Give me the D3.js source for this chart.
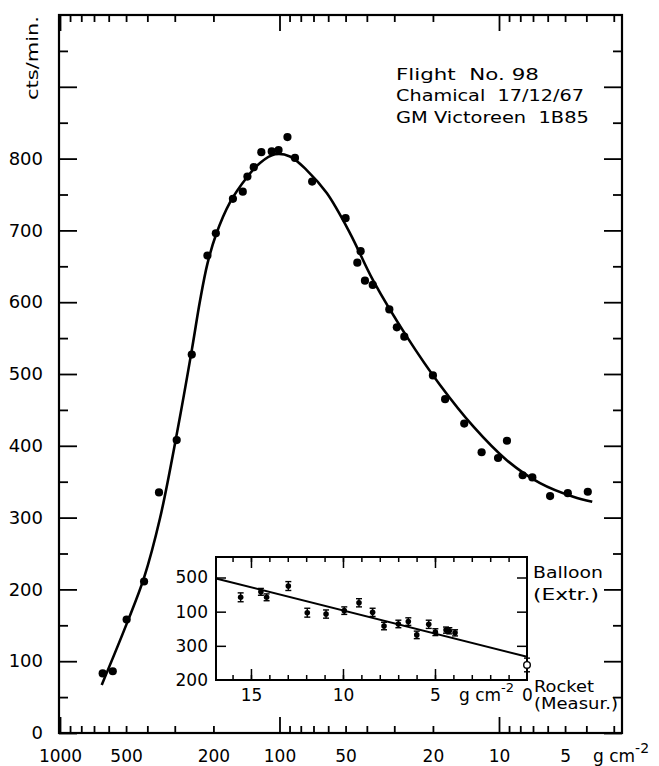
<!DOCTYPE html>
<html><head><meta charset="utf-8">
<script src="https://cdn.jsdelivr.net/npm/d3@7"></script>
<style>
body{margin:0;background:#fff}
svg{display:block}
text{font-family:"DejaVu Sans",sans-serif;fill:#000}
</style>
</head><body>
<svg id="c" width="659" height="766"></svg>
<script>
// ---------------- data ----------------
// main measured points: atmospheric depth (g cm^-2) and counting rate (cts/min)
const depthMain = [639,575,497,414,354,294,251,213,195,163,147,140,131,121,108.5,101,92,85,71,50,42.7,44.2,40.8,37.6,31.6,29.2,27,20,17.6,14.4,12,10.1,9.2,7.8,7.05,5.85,4.86,3.94];
const countsMain = [83,86,158,211,335,408,527,665,696,744,754,775,788,809,810,812,830,801,768,717,671,655,630,624,590,565,552,498,465,431,391,383,407,359,356,330,334,336];
// fitted curve
const curveDepth = [645.6,497,414.4,350.3,293.1,250.4,230.2,212.8,194.7,168.1,140.6,122.7,104.8,89.6,75.2,60.9,47.7,37.4,26.3,18.6,13.1,9.22,6.5,4.59,3.76];
const curveCounts = [67,152,216,299,418,535,602,654,694,739,774,794,806,803,784,752,696,630,552,485,427,380,348,329,322];
// inset: balloon (extrapolated) points
const insetDepth = [15.56,14.46,14.15,12.97,11.94,10.92,9.93,9.13,8.39,7.77,6.99,6.45,5.99,5.34,4.98,4.40,4.22,3.91];
const insetCounts = [442,458,442,475,397,393,403,426,398,358,364,371,332,363,340,346,344,338];
const insetErr = [13,10,10,13,13,12,11,12,12,11,11,11,11,12,10,9,9,9];
// inset: rocket (measured) point
const rocketDepth = [0];
const rocketCounts = [244];
const rocketErr = [20];
// inset straight line
const insetLineDepth = [16.9, 0];
const insetLineCounts = [497, 268];
// tick labels
const yTickLabels = [0,100,200,300,400,500,600,700,800];
const yMajorTicks = [0,100,200,300,400,500,600,700,800,900];
const yMinorTicks = [50,150,250,350,450,550,650,750,850,950];
const xTickLabels = [1000,500,200,100,50,20,10,5];
const xMajorTicks = [1000,100,10];
const insetYTicks = [500,400,300,200];
const insetYTickLabels = ["500","100","300","200"];
const insetXTickLabels = [15,10,5,0];
const insetXMajorTicks = [15,10,5];
const annotation = ["Flight  No. 98","Chamical  17/12/67","GM Victoreen  1B85"];

// ---------------- layout ----------------
const L=59,R=622,T=15,B=733;
const svg=d3.select('#c');
const x=d3.scaleLog().domain([1000, 1000/Math.pow(10,(R-60)/219.5)]).range([60,R]);
const y=d3.scaleLinear().domain([0,1000]).range([B,T]);

const minorX=[];
[100,10,1].forEach(dec=>{for(let k=2;k<=9;k++){const v=k*dec; if(v>=x.domain()[1]) minorX.push(v);}});

function tickAxis(axis, transform, sw){
  const g=svg.append('g').attr('transform',transform).call(axis);
  g.select('.domain').remove();
  g.selectAll('line').attr('stroke','#000').attr('stroke-width',sw||1.8);
  return g;
}
// fit a text horizontally to a width by scaling the glyphs
function fitText(sel, px, py, width, rot){
  const n=sel.node().getComputedTextLength();
  const s=width/n;
  sel.attr('x',0).attr('y',0)
     .attr('transform',`translate(${px},${py})`+(rot?` rotate(${rot})`:'')+` scale(${s},1)`);
}
// bottom & top ticks
tickAxis(d3.axisBottom(x).tickValues(minorX).tickSizeInner(-7).tickSizeOuter(0).tickFormat(''),`translate(0,${B})`);
tickAxis(d3.axisBottom(x).tickValues(xMajorTicks).tickSizeInner(-16).tickSizeOuter(0).tickFormat(''),`translate(0,${B})`);
tickAxis(d3.axisTop(x).tickValues(minorX).tickSizeInner(-7).tickSizeOuter(0).tickFormat(''),`translate(0,${T})`);
tickAxis(d3.axisTop(x).tickValues(xMajorTicks).tickSizeInner(-16).tickSizeOuter(0).tickFormat(''),`translate(0,${T})`);
// left & right ticks
tickAxis(d3.axisLeft(y).tickValues(yMajorTicks).tickSizeInner(-18).tickSizeOuter(0).tickFormat(''),`translate(${L},0)`);
tickAxis(d3.axisLeft(y).tickValues(yMinorTicks).tickSizeInner(-9).tickSizeOuter(0).tickFormat(''),`translate(${L},0)`);
tickAxis(d3.axisRight(y).tickValues(yMajorTicks).tickSizeInner(-18).tickSizeOuter(0).tickFormat(''),`translate(${R},0)`);
tickAxis(d3.axisRight(y).tickValues(yMinorTicks).tickSizeInner(-9).tickSizeOuter(0).tickFormat(''),`translate(${R},0)`);

// labels
const yl=svg.append('g').attr('transform',`translate(${L},0)`)
  .call(d3.axisLeft(y).tickValues(yTickLabels).tickSize(0).tickPadding(16).tickFormat(d3.format('d')));
yl.select('.domain').remove();
yl.attr('font-size',18).attr('font-family','"DejaVu Sans",sans-serif');
const xl=svg.append('g').attr('transform',`translate(0,${B})`)
  .call(d3.axisBottom(x).tickValues(xTickLabels).tickSize(0).tickPadding(17).tickFormat(d3.format('d')));
xl.select('.domain').remove();
xl.attr('font-size',17).attr('font-family','"DejaVu Sans",sans-serif');

const unit=svg.append('text').attr('x',593).attr('y',762).attr('font-size',17).text('g cm');
unit.append('tspan').attr('dy',-9).attr('font-size',14).text('-2');

// frame
svg.append('rect').attr('x',L).attr('y',T).attr('width',R-L).attr('height',B-T)
  .attr('fill','none').attr('stroke','#000').attr('stroke-width',2.2);

// y title
fitText(svg.append('text').attr('font-size',15).text('cts/min.'),38,100,84,-90);

// annotation
const annY=[80,101,123], annLen=[143,188,193];
annotation.forEach((s,i)=>{
  const t=svg.append('text').attr('font-size',15)
   .attr('xml:space','preserve').style('white-space','pre').text(s);
  fitText(t,396,annY[i],annLen[i]);
});

// curve
const line=d3.line().x(d=>x(d[0])).y(d=>y(d[1])).curve(d3.curveCatmullRom.alpha(0.5));
svg.append('path').datum(curveDepth.map((d,i)=>[d,curveCounts[i]]))
  .attr('d',line).attr('fill','none').attr('stroke','#000').attr('stroke-width',2.6);
// points
svg.append('g').selectAll('circle').data(depthMain.map((d,i)=>[d,countsMain[i]])).join('circle')
  .attr('cx',d=>x(d[0])).attr('cy',d=>y(d[1])).attr('r',4.1).attr('fill','#000');

// ---------------- inset ----------------
const IL=216,IR=527,IT=557,IB=680;
const xi=d3.scaleLinear().domain([16.9,0]).range([IL,IR]);
const yi=d3.scaleLinear().domain([200,560]).range([IB,IT]);
svg.append('rect').attr('x',IL).attr('y',IT).attr('width',IR-IL).attr('height',IB-IT).attr('fill','#fff');
const intTicks=d3.range(1,17);
tickAxis(d3.axisBottom(xi).tickValues(intTicks).tickSizeInner(-5).tickSizeOuter(0).tickFormat(''),`translate(0,${IB})`,1.5);
tickAxis(d3.axisBottom(xi).tickValues(insetXMajorTicks).tickSizeInner(-11).tickSizeOuter(0).tickFormat(''),`translate(0,${IB})`,1.5);
tickAxis(d3.axisTop(xi).tickValues(intTicks).tickSizeInner(-5).tickSizeOuter(0).tickFormat(''),`translate(0,${IT})`,1.5);
tickAxis(d3.axisTop(xi).tickValues(insetXMajorTicks).tickSizeInner(-11).tickSizeOuter(0).tickFormat(''),`translate(0,${IT})`,1.5);
tickAxis(d3.axisLeft(yi).tickValues(insetYTicks.slice(0,3)).tickSizeInner(-10).tickSizeOuter(0).tickFormat(''),`translate(${IL},0)`,1.5);
tickAxis(d3.axisRight(yi).tickValues(insetYTicks.slice(0,3)).tickSizeInner(-10).tickSizeOuter(0).tickFormat(''),`translate(${IR},0)`,1.5);
const iyl=svg.append('g').attr('transform',`translate(${IL},0)`)
  .call(d3.axisLeft(yi).tickValues(insetYTicks).tickSize(0).tickPadding(8).tickFormat((d,i)=>insetYTickLabels[i]));
iyl.select('.domain').remove();
iyl.attr('font-size',17).attr('font-family','"DejaVu Sans",sans-serif');
const ixl=svg.append('g').attr('transform',`translate(0,${IB})`)
  .call(d3.axisBottom(xi).tickValues(insetXTickLabels).tickSize(0).tickPadding(9).tickFormat(d3.format('d')));
ixl.select('.domain').remove();
ixl.attr('font-size',17).attr('font-family','"DejaVu Sans",sans-serif');
const iu=svg.append('text').attr('x',459).attr('y',701).attr('font-size',17).text('g cm');
iu.append('tspan').attr('dy',-9).attr('font-size',13).text('-2');

svg.append('rect').attr('x',IL).attr('y',IT).attr('width',IR-IL).attr('height',IB-IT)
  .attr('fill','none').attr('stroke','#000').attr('stroke-width',2);

// inset line
svg.append('path').datum(insetLineDepth.map((d,i)=>[d,insetLineCounts[i]]))
  .attr('d',d3.line().x(d=>xi(d[0])).y(d=>yi(d[1]))).attr('stroke','#000').attr('stroke-width',2).attr('fill','none');
// error bars
function errBars(dep,cnt,err){
  const g=svg.append('g').attr('stroke','#000').attr('stroke-width',1.4);
  dep.forEach((d,i)=>{
    const cx=xi(d), y0=yi(cnt[i]-err[i]), y1=yi(cnt[i]+err[i]);
    g.append('line').attr('x1',cx).attr('x2',cx).attr('y1',y0).attr('y2',y1);
    g.append('line').attr('x1',cx-3).attr('x2',cx+3).attr('y1',y0).attr('y2',y0);
    g.append('line').attr('x1',cx-3).attr('x2',cx+3).attr('y1',y1).attr('y2',y1);
  });
}
errBars(insetDepth,insetCounts,insetErr);
errBars(rocketDepth,rocketCounts,rocketErr);
svg.append('g').selectAll('circle').data(insetDepth.map((d,i)=>[d,insetCounts[i]])).join('circle')
  .attr('cx',d=>xi(d[0])).attr('cy',d=>yi(d[1])).attr('r',2.8).attr('fill','#000');
svg.append('g').selectAll('circle').data(rocketDepth.map((d,i)=>[d,rocketCounts[i]])).join('circle')
  .attr('cx',d=>xi(d[0])).attr('cy',d=>yi(d[1])).attr('r',3.3).attr('fill','#fff').attr('stroke','#000').attr('stroke-width',1.4);

// side labels
const side=[["Balloon",533,578,70],["(Extr.)",533,600,66],["Rocket",534,692,60],["(Measur.)",534,709,84]];
side.forEach(s=>{
  fitText(svg.append('text').attr('font-size',15).text(s[0]),s[1],s[2],s[3]);
});
</script>
</body></html>
